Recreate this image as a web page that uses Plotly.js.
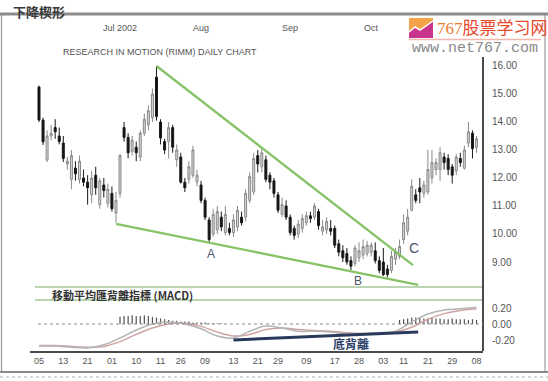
<!DOCTYPE html>
<html><head><meta charset="utf-8">
<script src="https://cdn.plot.ly/plotly-3.0.1.min.js"></script>
<style>html,body{margin:0;padding:0;background:#fff;}#chart{width:548px;height:381px;}</style>
</head><body><div id="chart"></div>
<script>
// ---- data ----
const openP  = [15.25,14.07,12.64,13.5,13.8,13.5,13.25,12.5,11.95,12.35,11.95,12.0,11.85,11.4,12.1,11.05,11.75,11.1,11.45,10.75,
  11.45,13.8,13.45,12.95,13.1,12.75,13.6,13.9,14.15,15.6,14.0,13.3,13.3,13.8,12.65,12.75,11.85,11.95,12.1,11.85,
  11.75,11.2,10.5,10.0,10.15,10.6,10.05,10.2,10.05,10.25,10.6,10.6,11.2,11.5,12.8,12.4,12.65,12.1,11.9,11.4,
  10.7,11.0,10.6,10.2,10.0,10.2,10.4,10.65,10.6,10.8,10.1,10.15,10.2,10.2,9.65,9.4,9.3,9.05,8.95,9.15,
  9.25,9.3,9.35,9.4,9.05,9.0,8.75,8.7,9.1,9.2,9.8,10.1,10.85,11.4,11.65,11.45,11.5,12.0,12.3,12.3,
  12.75,12.7,12.4,12.25,12.7,12.35,13.25,13.6,13.1];
const highP  = [15.3,14.15,13.7,13.9,14.1,13.8,13.5,12.75,13.0,12.6,12.8,12.3,12.1,12.25,12.4,12.0,12.0,11.8,11.7,11.5,
  12.85,14.0,13.6,13.5,13.3,13.7,14.3,14.6,15.2,16.0,14.1,13.4,14.0,13.9,13.2,12.9,12.0,12.6,13.15,12.3,
  11.9,11.3,10.6,10.9,11.0,10.8,11.0,10.4,10.7,11.0,10.8,11.6,12.2,12.9,13.0,13.05,12.8,12.2,12.0,11.5,
  11.3,11.2,10.7,10.3,10.5,10.7,10.8,10.8,11.1,10.9,10.5,10.6,10.5,10.3,9.8,9.6,9.5,9.2,9.6,9.7,
  9.8,9.75,9.7,9.7,9.2,9.5,8.9,9.4,9.5,9.8,10.7,10.9,11.95,11.6,12.0,11.9,13.0,13.0,12.7,13.1,
  12.9,12.85,12.5,12.85,12.9,13.15,14.0,13.7,13.5];
const lowP   = [14.0,13.18,12.57,13.35,13.4,13.2,12.57,12.3,11.6,11.9,11.8,11.7,11.05,11.1,11.4,10.9,11.3,10.95,10.8,10.4,
  11.3,13.3,12.7,12.8,12.6,12.6,13.5,13.7,14.0,14.05,13.2,12.85,12.7,12.9,12.4,11.8,11.5,11.8,12.0,11.7,
  11.1,10.5,9.7,9.9,10.0,10.1,9.95,9.95,9.9,10.1,10.3,10.45,11.1,11.4,12.2,12.2,11.85,11.6,11.3,10.75,
  10.6,10.5,9.95,9.8,9.85,10.05,10.3,10.4,10.5,10.15,9.95,10.0,9.95,9.5,9.2,9.0,8.9,8.7,8.85,9.0,
  9.1,9.2,9.2,8.95,8.6,8.5,8.45,8.6,8.9,9.1,9.65,9.95,10.8,11.1,11.1,11.3,11.4,11.8,12.1,11.9,
  12.3,12.1,11.8,12.1,12.4,12.3,13.1,12.7,12.9];
const closeP = [14.07,13.29,13.5,13.6,13.65,13.3,12.7,12.6,12.8,12.15,12.6,11.85,11.65,12.0,11.65,11.9,11.55,11.6,10.9,11.2,
  12.8,13.45,12.9,13.35,12.9,13.6,14.1,14.4,15.0,14.2,13.43,13.0,13.8,13.1,13.0,11.85,11.65,12.4,13.0,12.1,
  11.2,10.6,9.8,10.7,10.8,10.25,10.7,10.05,10.5,10.85,10.4,11.45,12.05,12.7,12.5,12.9,11.95,11.85,11.45,10.85,
  11.05,10.6,10.05,9.95,10.35,10.55,10.65,10.55,11.0,10.3,10.25,10.45,10.1,9.6,9.35,9.15,9.0,8.85,9.5,9.4,
  9.55,9.6,9.6,9.05,8.7,8.55,8.55,9.2,9.35,9.55,10.4,10.6,11.7,11.2,11.5,11.75,12.3,12.55,12.55,12.9,
  12.55,12.3,12.1,12.75,12.55,13.0,13.65,13.05,13.4];

const macdIdx    = [0,4,8,12,16,20,24,28,32,36,40,44,48,52,56,60,64,68,72,76,80,84,88,92,96,100,104,108];
const macdLine   = [-0.275,-0.275,-0.29,-0.30,-0.26,-0.175,-0.075,0.0,0.025,0.0,-0.06,-0.15,-0.175,-0.09,-0.025,-0.05,-0.09,-0.09,-0.10,-0.125,-0.125,-0.11,-0.09,0.025,0.125,0.175,0.19,0.21];
const signalLine = [-0.27,-0.27,-0.28,-0.29,-0.28,-0.22,-0.13,-0.05,0.0,0.01,-0.03,-0.10,-0.15,-0.13,-0.07,-0.05,-0.07,-0.08,-0.09,-0.11,-0.12,-0.115,-0.10,-0.04,0.06,0.13,0.17,0.19];
const histVal = [0,0,0,0,0,0,0,0,0,0,0,0,0,0,0,0,0,0,0,0,
  0.09,0.10,0.10,0.11,0.10,0.10,0.11,0.10,0.09,0.08,0.07,0.06,0.05,0.04,0.04,0.03,0.03,0.03,0.02,0.02,
  0.02,0.02,0.01,0.01,0.01,0.01,0,0,0,0,0,0,0,0,0,0,0,0,0,0,
  0,0,0,0,0,0,0,0,0,0,0,0,0,0,0,0,0,0,0,0,
  0,0,0,0,0,0,0,0,0,0.05,0.06,0.07,0.08,0.08,0.08,0.07,0.07,0.08,0.07,0.07,
  0.06,0.06,0.07,0.06,0.06,0.06,0.05,0.06,0.05];

const wedgeUpperX = [29, 92.3], wedgeUpperY = [16.0, 8.89];
const wedgeLowerX = [19, 93.6], wedgeLowerY = [10.36, 8.18];
const divergeX = [48, 93.6], divergeY = [-0.2, -0.1];

const priceTicks = [9,10,11,12,13,14,15,16];
const macdTicks = [-0.2, 0, 0.2];
const macdTickText = ['-0.20','0.00','0.20'];
const dayLabels = ['05','13','21','01','10','11','26','09','13','21','29','09','17','28','03','11','21','29','08'];
const dayLabelIdx = [0,6,12,18,24,30,35,41,48,54,59,66,73,79,85,90,96,102,108];
const monthLabels = ['Jul 2002','Aug','Sep','Oct'];
const monthLabelIdx = [20,40,62,82];
const pointLabels = ['A','B','C'];
const pointLabelX = [42.5, 78.8, 92.6];
const pointLabelY = [9.29, 8.32, 9.5];

// ---- drawing ----
const W = 548, H = 381;
const px = x => x / W, py = y => 1 - y / H;
const idx = openP.map((_, i) => i);
const SANS = 'Liberation Sans, Arial, sans-serif';
const CJK = 'Noto Sans CJK TC, Noto Sans CJK SC, sans-serif';

const traces = [
  {type:'candlestick', x: idx, open: openP, high: highP, low: lowP, close: closeP,
   xaxis:'x', yaxis:'y', whiskerwidth:0, hoverinfo:'skip', showlegend:false,
   increasing:{line:{color:'#8a8a8a', width:1}, fillcolor:'#d6d6d6'},
   decreasing:{line:{color:'#1a1a1a', width:1}, fillcolor:'#111111'}},
  {type:'scatter', mode:'lines', x: wedgeUpperX, y: wedgeUpperY, xaxis:'x', yaxis:'y',
   line:{color:'#86c266', width:2.3}, hoverinfo:'skip', showlegend:false, cliponaxis:false},
  {type:'scatter', mode:'lines', x: wedgeLowerX, y: wedgeLowerY, xaxis:'x', yaxis:'y',
   line:{color:'#86c266', width:2.3}, hoverinfo:'skip', showlegend:false, cliponaxis:false},
  {type:'bar', x: idx, y: histVal, xaxis:'x', yaxis:'y2', width:0.3,
   marker:{color:'#555555', line:{width:0}}, hoverinfo:'skip', showlegend:false},
  {type:'scatter', mode:'lines', x: macdIdx, y: signalLine, xaxis:'x', yaxis:'y2',
   line:{color:'#cfa3a3', width:1.5, shape:'spline'}, hoverinfo:'skip', showlegend:false},
  {type:'scatter', mode:'lines', x: macdIdx, y: macdLine, xaxis:'x', yaxis:'y2',
   line:{color:'#b4b4b4', width:1.5, shape:'spline'}, hoverinfo:'skip', showlegend:false},
  {type:'scatter', mode:'lines', x: divergeX, y: divergeY, xaxis:'x', yaxis:'y2',
   line:{color:'#2b3a5c', width:3}, hoverinfo:'skip', showlegend:false}
];

const annotations = [
  {text:'<b>下降楔形</b>', xref:'paper', yref:'paper', x:px(12), y:py(1), xanchor:'left', yanchor:'top',
   showarrow:false, borderpad:0, font:{family:CJK, size:13, color:'#3a3a3a'}},
  {text:'RESEARCH IN MOTION (RIMM) DAILY CHART', xref:'paper', yref:'paper', x:px(160), y:py(52),
   xanchor:'center', yanchor:'middle', showarrow:false, font:{family:SANS, size:9, color:'#555'}},
  {text:'<b>移動平均匯背離指標 (MACD)</b>', xref:'paper', yref:'paper', x:px(50), y:py(294.5),
   xanchor:'left', yanchor:'middle', showarrow:false, font:{family:CJK, size:11, color:'#333'}},
  {text:'<b>底背離</b>', xref:'paper', yref:'paper', x:px(351), y:py(343),
   xanchor:'center', yanchor:'middle', showarrow:false, font:{family:CJK, size:12, color:'#2b3f6a'}},
  {text:'<span style="color:#f07a2e">767</span>股票学习网', xref:'paper', yref:'paper', x:px(435), y:py(28.5),
   xanchor:'left', yanchor:'middle', showarrow:false, font:{family:'Liberation Serif, Noto Sans CJK SC, serif', size:17, color:'#e8492c'}},
  {text:'www.net767.com', xref:'paper', yref:'paper', x:px(475), y:py(48),
   xanchor:'center', yanchor:'middle', showarrow:false, font:{family:'Liberation Mono, monospace', size:15, color:'#8a8a8a'}}
];
monthLabels.forEach((t, k) => annotations.push({text:t, xref:'x', yref:'paper', x:monthLabelIdx[k], y:py(28),
  xanchor:'center', yanchor:'middle', showarrow:false, font:{family:SANS, size:9, color:'#555'}}));
pointLabels.forEach((t, k) => annotations.push({text:t, xref:'x', yref:'y', x:pointLabelX[k], y:pointLabelY[k],
  xanchor:'center', yanchor:'middle', showarrow:false, font:{family:SANS, size:t==='C'?14:12, color:'#4a5568'}}));

const shapes = [
  // outer frame
  {type:'rect', xref:'paper', yref:'paper', x0:px(1.5), x1:px(545), y0:py(372), y1:py(14), line:{color:'#9a9a9a', width:1.2}},
  {type:'line', xref:'paper', yref:'paper', x0:0, x1:1, y0:py(14), y1:py(14), line:{color:'#8c8c8c', width:3}},
  {type:'line', xref:'paper', yref:'paper', x0:0, x1:1, y0:py(372), y1:py(372), line:{color:'#8a8a8a', width:2}},
  {type:'line', xref:'paper', yref:'paper', x0:0, x1:1, y0:py(377), y1:py(377), line:{color:'#b0b0b0', width:1, dash:'dot'}},
  // separators around MACD title
  {type:'line', xref:'paper', yref:'paper', x0:px(35), x1:px(483), y0:py(287), y1:py(287), line:{color:'#a5c79a', width:1.5}},
  {type:'line', xref:'paper', yref:'paper', x0:px(35), x1:px(483), y0:py(300), y1:py(300), line:{color:'#a5c79a', width:1.5}},
  // right value axis
  {type:'line', xref:'paper', yref:'paper', x0:px(483), x1:px(483), y0:py(57), y1:py(351), line:{color:'#4a4a4a', width:2}},
  // MACD zero line
  {type:'line', xref:'paper', yref:'y2', x0:px(38), x1:px(483), y0:0, y1:0, line:{color:'#8a8a8a', width:1, dash:'dot'}},
  // logo icon
  {type:'rect', xref:'paper', yref:'paper', x0:px(409), x1:px(433), y0:py(38), y1:py(18), line:{width:0}, fillcolor:'#f4a348'},
  {type:'path', xref:'paper', yref:'paper',
   path:`M ${px(409)} ${py(38)} L ${px(409)} ${py(32)} L ${px(415)} ${py(27)} L ${px(420)} ${py(30)} L ${px(433)} ${py(21)} L ${px(433)} ${py(38)} Z`,
   line:{width:0}, fillcolor:'#c8358c'},
  {type:'path', xref:'paper', yref:'paper',
   path:`M ${px(409)} ${py(32)} L ${px(415)} ${py(27)} L ${px(420)} ${py(30)} L ${px(433)} ${py(21)}`,
   line:{color:'#ffffff', width:1.5}},
  {type:'line', xref:'paper', yref:'paper', x0:px(409), x1:px(541), y0:py(39.5), y1:py(39.5), line:{color:'#f2b8b0', width:1.5}}
];

const layout = {
  width: W, height: H, margin:{l:0, r:0, t:0, b:0},
  paper_bgcolor:'#ffffff', plot_bgcolor:'rgba(0,0,0,0)', showlegend:false, bargap:0.7,
  xaxis:{domain:[px(30), px(483)], range:[-2.22, 109.6], type:'linear', anchor:'y2',
    rangeslider:{visible:false}, showgrid:false, zeroline:false,
    showline:true, linecolor:'#4a4a4a', linewidth:1.5, ticks:'',
    tickvals: dayLabelIdx, ticktext: dayLabels, ticklabelstandoff:1,
    tickfont:{family:SANS, size:9, color:'#555'}},
  yaxis:{domain:[py(287), py(57)], range:[8.107, 16.321], side:'right', anchor:'x',
    showgrid:false, zeroline:false, showline:false, ticks:'',
    tickvals: priceTicks, tickformat:'.2f', ticklabelstandoff:8,
    tickfont:{family:SANS, size:10, color:'#555'}},
  yaxis2:{domain:[py(351), py(302)], range:[-0.3375, 0.275], side:'right', anchor:'x',
    showgrid:false, zeroline:false, showline:false, ticks:'',
    tickvals: macdTicks, ticktext: macdTickText, ticklabelstandoff:8,
    tickfont:{family:SANS, size:10, color:'#555'}},
  annotations, shapes
};

Plotly.newPlot('chart', traces, layout, {staticPlot:true, displayModeBar:false});
</script>
</body></html>
